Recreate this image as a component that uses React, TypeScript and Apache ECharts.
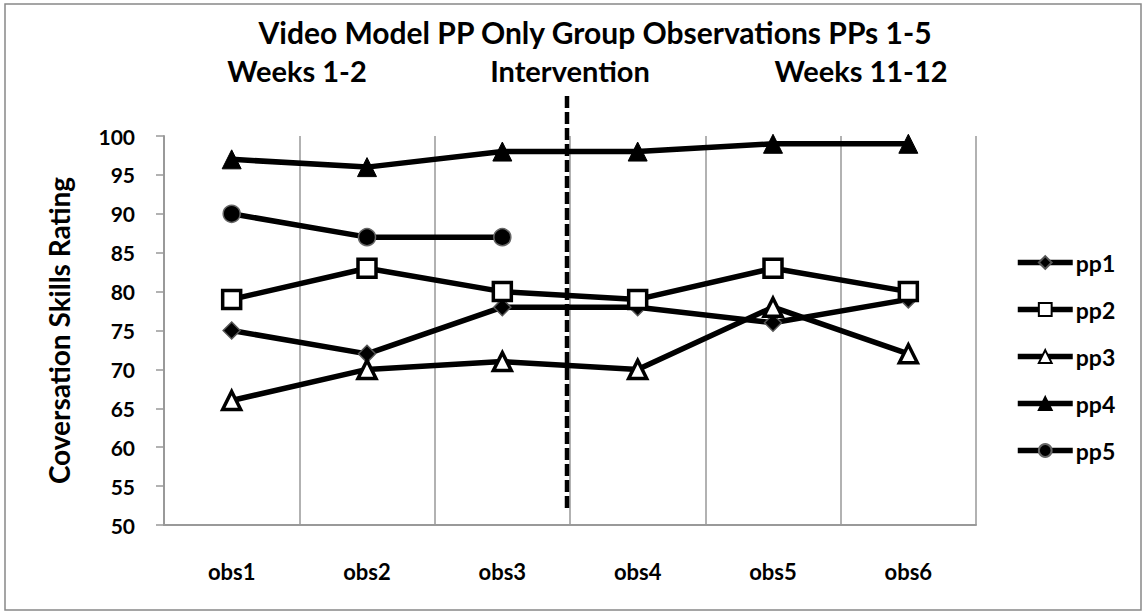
import React, { useEffect, useRef } from "react";
import * as echarts from "echarts";

const categories = ["obs1", "obs2", "obs3", "obs4", "obs5", "obs6"];
const pp1 = [75, 72, 78, 78, 76, 79];
const pp2 = [79, 83, 80, 79, 83, 80];
const pp3 = [66, 70, 71, 70, 78, 72];
const pp4 = [97, 96, 98, 98, 99, 99];
const pp5: (number | null)[] = [90, 87, 87, null, null, null];
const yTicks = { min: 50, max: 100, interval: 5 };
const titleText = "Video Model PP Only Group Observations PPs 1-5";
const phaseLabels = ["Weeks 1-2", "Intervention", "Weeks 11-12"];

const FONT = "Lato, 'Open Sans', sans-serif";

export default function App() {
  const ref = useRef<HTMLDivElement>(null);
  useEffect(() => {
    if (!ref.current) return;
    const chart = echarts.init(ref.current, undefined, { renderer: "svg" });
    const mk = (name: string, data: (number | null)[], symbol: string, size: number, fill: string, border: string, bw: number) => ({
      name,
      type: "line",
      data,
      symbol,
      symbolSize: size,
      showAllSymbol: true,
      connectNulls: false,
      lineStyle: { color: "#000", width: 5.5 },
      itemStyle: { color: fill, borderColor: border, borderWidth: bw },
      emphasis: { disabled: true },
    });
    const tStyle = { fontFamily: FONT, fontWeight: "bold", fontSize: 29, color: "#000" };
    chart.setOption({
      animation: false,
      backgroundColor: "#fff",
      textStyle: { fontFamily: FONT },
      title: [
        { text: titleText, left: 590, top: 12, textAlign: "center", textStyle: { ...tStyle, fontSize: 30 } },
        { text: phaseLabels[0], left: 292, top: 51, textAlign: "center", textStyle: tStyle },
        { text: phaseLabels[1], left: 565, top: 51, textAlign: "center", textStyle: tStyle },
        { text: phaseLabels[2], left: 856, top: 51, textAlign: "center", textStyle: tStyle },
      ],
      grid: { left: 164, right: 167, top: 136, bottom: 87, containLabel: false },
      legend: {
        orient: "vertical",
        left: 1015,
        top: 251,
        padding: 0,
        itemWidth: 55,
        itemHeight: 16,
        itemGap: 24,
        lineStyle: { width: 5.5 },
        textStyle: { fontFamily: FONT, fontWeight: "bold", fontSize: 23, color: "#000", padding: [0, 0, 0, -2] },
        data: ["pp1", "pp2", "pp3", "pp4", "pp5"],
      },
      xAxis: {
        type: "category",
        data: categories,
        boundaryGap: true,
        axisLine: { show: true, lineStyle: { color: "#999", width: 2 } },
        axisTick: { show: false },
        splitLine: { show: true, lineStyle: { color: "#999", width: 1.5 } },
        axisLabel: { margin: 35, fontFamily: FONT, fontWeight: "bold", fontSize: 22, color: "#000" },
      },
      yAxis: {
        type: "value",
        min: yTicks.min,
        max: yTicks.max,
        interval: yTicks.interval,
        name: "Coversation Skills Rating",
        nameLocation: "middle",
        nameGap: 91,
        nameTextStyle: { fontFamily: FONT, fontWeight: "bold", fontSize: 28, color: "#000" },
        axisLine: { show: true, lineStyle: { color: "#999", width: 2 } },
        axisTick: { show: true, inside: false, length: 8, lineStyle: { color: "#999", width: 1.5 } },
        splitLine: { show: false },
        axisLabel: { margin: 29, fontFamily: FONT, fontWeight: "bold", fontSize: 21, color: "#000" },
      },
      series: [
        mk("pp1", pp1, "diamond", 17, "#000", "#555", 1.5),
        mk("pp2", pp2, "rect", 18, "#fff", "#000", 3.5),
        mk("pp3", pp3, "triangle", 18, "#fff", "#000", 3.5),
        mk("pp4", pp4, "triangle", 19, "#000", "#000", 1),
        mk("pp5", pp5, "circle", 17, "#000", "#666", 1.5),
      ],
    });
    const c3 = chart.convertToPixel({ xAxisIndex: 0 }, "obs3") as number;
    const c4 = chart.convertToPixel({ xAxisIndex: 0 }, "obs4") as number;
    const xd = (c3 + c4) / 2 - 3;
    chart.setOption({
      graphic: [
        { type: "rect", shape: { x: 5, y: 4, width: 1136, height: 606 }, style: { fill: "none", stroke: "#888", lineWidth: 1.5 }, silent: true },
        { type: "line", shape: { x1: xd, y1: 96, x2: xd, y2: 512 }, style: { stroke: "#000", lineWidth: 4.5, lineDash: [12, 4] }, z: 10, silent: true },
      ],
    });
    return () => chart.dispose();
  }, []);
  return <div ref={ref} style={{ position: "fixed", left: 0, top: 0, width: 1143, height: 612 }} />;
}
